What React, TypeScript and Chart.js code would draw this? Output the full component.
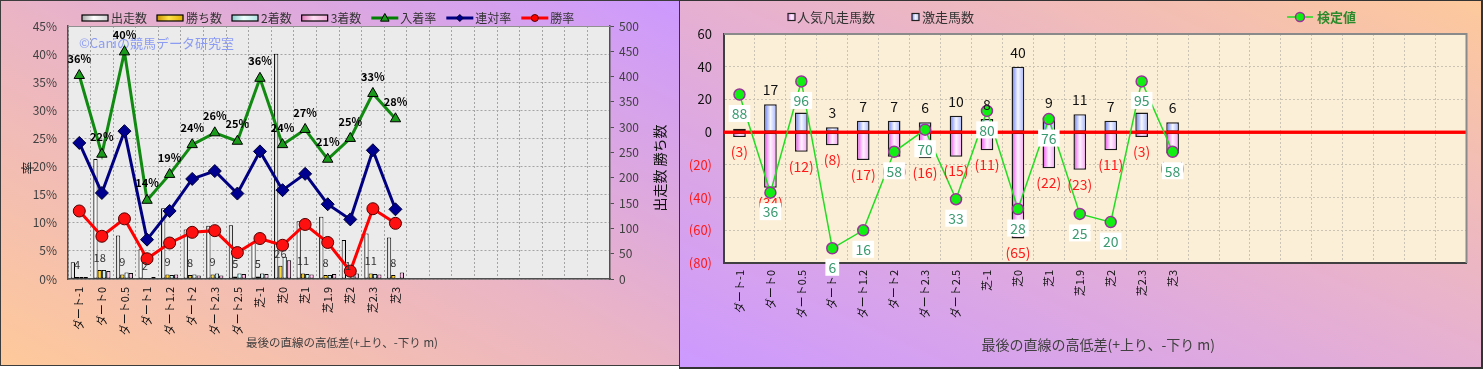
import React, { useEffect, useRef } from 'react';
import { Chart, registerables } from 'chart.js';

Chart.register(...registerables);

const FONT = '"Noto Sans CJK JP", "Noto Sans", sans-serif';

// ---------- data ----------
const categories = ['ダート-1', 'ダート0', 'ダート0.5', 'ダート1', 'ダート1.2', 'ダート2', 'ダート2.3', 'ダート2.5', '芝-1', '芝0', '芝1', '芝1.9', '芝2', '芝2.3', '芝3'];
const emptySlotCount = 9;

// left chart (counts on right axis, rates on left axis)
const starts = [33, 237, 86, 59, 140, 98, 105, 106, 72, 445, 114, 123, 77, 90, 82];
const wins = [4, 18, 9, 2, 9, 8, 9, 5, 5, 26, 11, 8, 1, 11, 8];
const seconds = [4, 18, 13, 2, 8, 9, 11, 11, 11, 44, 10, 8, 7, 10, 2];
const thirds = [4, 16, 12, 4, 9, 7, 7, 10, 10, 37, 9, 10, 11, 9, 13];
const placeRate = [36.2, 22.2, 40.4, 14.0, 18.6, 23.9, 26.0, 24.5, 35.7, 23.9, 26.6, 21.3, 25.0, 33.0, 28.5];
const rentaiRate = [24.2, 15.3, 26.3, 7.0, 12.1, 17.8, 19.2, 15.2, 22.7, 15.8, 18.7, 13.3, 10.6, 22.9, 12.4];
const winRate = [12.1, 7.6, 10.7, 3.6, 6.4, 8.3, 8.6, 4.7, 7.2, 6.0, 9.7, 6.5, 1.4, 12.5, 9.9];
const placeRateLabels = ['36%', '22%', '40%', '14%', '19%', '24%', '26%', '25%', '36%', '24%', '27%', '21%', '25%', '33%', '28%'];
const rateTicks = [0, 45, 5];
const countTicks = [0, 500, 50];

// right chart
const upsetCounts = [2, 17, 12, 3, 7, 7, 6, 10, 8, 40, 9, 11, 7, 12, 6];
const flopCounts = [-3, -34, -12, -8, -17, -15, -16, -15, -11, -65, -22, -23, -11, -3, -13];
const testValues = [23, -37, 31, -71, -60, -12, 1.5, -41, 13, -47, 8, -50, -55, 31, -12];
const testLabels = ['88', '36', '96', '6', '16', '58', '70', '33', '80', '28', '76', '25', '20', '95', '58'];
const rightTicks = [-80, 60, 20];

const xTitle = '最後の直線の高低差(+上り、-下り m)';

const allLabels = [...categories, ...Array(emptySlotCount).fill('')];
const pad = (arr: number[]) => [...arr, ...Array(emptySlotCount).fill(null)];

type Stop = [number, string];
const STOPS: Record<string, Stop[]> = {
  white: [[0, '#a8a8a8'], [0.45, '#ffffff'], [1, '#d0d0d0']],
  gold: [[0, '#c89400'], [0.45, '#ffe24a'], [1, '#e0b000']],
  cyan: [[0, '#88cccc'], [0.45, '#f0ffff'], [1, '#b0e4e4']],
  pink: [[0, '#e078b8'], [0.45, '#ffe0f4'], [1, '#f0a8d8']],
  blue: [[0, '#8494f8'], [0.5, '#f6f8ff'], [1, '#b4c0ff']],
  magenta: [[0, '#ee70ee'], [0.5, '#fff2ff'], [1, '#f8b4f8']],
};

function gradFill(ctx: CanvasRenderingContext2D, l: number, t: number, w: number, h: number, stops: Stop[]) {
  const g = ctx.createLinearGradient(l, 0, l + w, 0);
  stops.forEach(([o, c]) => g.addColorStop(o, c));
  ctx.fillStyle = g;
  ctx.fillRect(l, t, w, h);
}

function overlayBars(chart: any, index: number) {
  const ds = chart.data.datasets[index];
  const stops: Stop[] | undefined = STOPS[ds.gradientKey];
  if (!stops) return;
  const bw = ds.borderWidth || 0;
  const meta = chart.getDatasetMeta(index);
  const ctx = chart.ctx as CanvasRenderingContext2D;
  ctx.save();
  meta.data.forEach((el: any, i: number) => {
    if (ds.data[i] == null) return;
    const { x, y, base, width } = el;
    if (![x, y, base, width].every((v: number) => isFinite(v))) return;
    const left = x - width / 2 + bw;
    const right = x + width / 2 - bw;
    const top = Math.min(y, base) + bw;
    const bottom = Math.max(y, base) - bw;
    if (right <= left || bottom <= top) return;
    gradFill(ctx, left, top, right - left, bottom - top, stops);
  });
  ctx.restore();
}

function drawMarker(ctx: CanvasRenderingContext2D, kind: string, x: number, y: number, r: number, fill: string, stroke: string) {
  ctx.beginPath();
  if (kind === 'triangle') {
    ctx.moveTo(x, y - r);
    ctx.lineTo(x + r * 0.95, y + r * 0.7);
    ctx.lineTo(x - r * 0.95, y + r * 0.7);
    ctx.closePath();
  } else if (kind === 'diamond') {
    ctx.moveTo(x, y - r);
    ctx.lineTo(x + r, y);
    ctx.lineTo(x, y + r);
    ctx.lineTo(x - r, y);
    ctx.closePath();
  } else {
    ctx.arc(x, y, r, 0, Math.PI * 2);
  }
  ctx.fillStyle = fill;
  ctx.fill();
  ctx.lineWidth = 1;
  ctx.strokeStyle = stroke;
  ctx.stroke();
}

function rotatedText(ctx: CanvasRenderingContext2D, text: string, x: number, y: number, font: string, color: string) {
  ctx.save();
  ctx.translate(x, y);
  ctx.rotate(-Math.PI / 2);
  ctx.font = font;
  ctx.fillStyle = color;
  ctx.textAlign = 'center';
  ctx.textBaseline = 'middle';
  ctx.fillText(text, 0, 0);
  ctx.restore();
}

const leftPlugin = {
  id: 'leftDecor',
  beforeDraw(chart: any) {
    const { ctx, chartArea: a } = chart;
    ctx.save();
    ctx.fillStyle = '#ebebeb';
    ctx.fillRect(a.left, a.top, a.right - a.left, a.bottom - a.top);
    ctx.restore();
  },
  beforeDatasetsDraw(chart: any) {
    const { ctx, chartArea: a } = chart;
    ctx.save();
    ctx.font = `13px ${FONT}`;
    ctx.fillStyle = '#8c9cf2';
    ctx.textBaseline = 'middle';
    ctx.fillText('©Caniの競馬データ研究室', a.left + 11, 43);
    ctx.restore();
  },
  afterDatasetDraw(chart: any, args: any) {
    if (args.meta.type === 'bar') overlayBars(chart, args.index);
  },
  afterDatasetsDraw(chart: any) {
    const ctx = chart.ctx as CanvasRenderingContext2D;
    ctx.save();
    ctx.textAlign = 'center';
    ctx.textBaseline = 'middle';
    // wins labels
    const winMeta = chart.getDatasetMeta(4);
    ctx.font = `11px ${FONT}`;
    ctx.fillStyle = '#333';
    wins.forEach((v, i) => {
      const el = winMeta.data[i];
      ctx.fillText(String(v), el.x, el.y - 12.5);
    });
    // place rate labels
    const pMeta = chart.getDatasetMeta(0);
    ctx.font = `bold 11px ${FONT}`;
    ctx.fillStyle = '#000';
    placeRateLabels.forEach((t, i) => {
      const el = pMeta.data[i];
      ctx.fillText(t, el.x, el.y - 17);
    });
    ctx.restore();
  },
  afterDraw(chart: any) {
    const { ctx, chartArea: a } = chart;
    ctx.save();
    // top border of plot
    ctx.strokeStyle = '#909090';
    ctx.lineWidth = 1;
    ctx.beginPath();
    ctx.moveTo(a.left, a.top + 0.5);
    ctx.lineTo(a.right, a.top + 0.5);
    ctx.stroke();

    // legend
    ctx.font = `12px ${FONT}`;
    ctx.textBaseline = 'middle';
    ctx.textAlign = 'left';
    const y = 18;
    let x = 82;
    const items: any[] = [
      { kind: 'box', label: '出走数', stops: STOPS.white },
      { kind: 'box', label: '勝ち数', stops: STOPS.gold },
      { kind: 'box', label: '2着数', stops: STOPS.cyan },
      { kind: 'box', label: '3着数', stops: STOPS.pink },
      { kind: 'line', label: '入着率', color: '#008000', marker: 'triangle', fill: '#1a9a1a', stroke: '#000', r: 4.5 },
      { kind: 'line', label: '連対率', color: '#000080', marker: 'diamond', fill: '#000090', stroke: '#000030', r: 3.5 },
      { kind: 'line', label: '勝率', color: '#ff0000', marker: 'circle', fill: '#ff0000', stroke: '#500000', r: 3.5 },
    ];
    items.forEach((it) => {
      if (it.kind === 'box') {
        gradFill(ctx, x, y - 3, 26, 6, it.stops);
        ctx.strokeStyle = '#000';
        ctx.lineWidth = 1.2;
        ctx.strokeRect(x, y - 3, 26, 6);
        x += 29;
      } else {
        ctx.strokeStyle = it.color;
        ctx.lineWidth = 3;
        ctx.beginPath();
        ctx.moveTo(x, y);
        ctx.lineTo(x + 27, y);
        ctx.stroke();
        drawMarker(ctx, it.marker, x + 13.5, y, it.r, it.fill, it.stroke);
        x += 29;
      }
      ctx.fillStyle = '#333';
      ctx.fillText(it.label, x, y + 0.5);
      x += ctx.measureText(it.label).width + 10;
    });

    // axis titles
    rotatedText(ctx, '率', 27, 168, `13px ${FONT}`, '#222');
    rotatedText(ctx, '出走数 勝ち数', 660, 168, `14px ${FONT}`, '#111');
    ctx.font = `11.5px ${FONT}`;
    ctx.fillStyle = '#404040';
    ctx.textAlign = 'center';
    ctx.fillText(xTitle, (a.left + a.right) / 2 + 3, 343);
    ctx.restore();
  },
};

const rightPlugin = {
  id: 'rightDecor',
  beforeDraw(chart: any) {
    const { ctx, chartArea: a } = chart;
    ctx.save();
    ctx.fillStyle = '#fcefd7';
    ctx.fillRect(a.left, a.top, a.right - a.left, a.bottom - a.top);
    ctx.restore();
  },
  afterDatasetDraw(chart: any, args: any) {
    if (args.meta.type === 'bar') {
      overlayBars(chart, args.index);
      const { ctx, chartArea: a, scales } = chart;
      const y0 = scales.y.getPixelForValue(0);
      ctx.save();
      ctx.strokeStyle = '#ff0000';
      ctx.lineWidth = 3;
      ctx.beginPath();
      ctx.moveTo(a.left, y0);
      ctx.lineTo(a.right, y0);
      ctx.stroke();
      ctx.restore();
    }
  },
  afterDatasetsDraw(chart: any) {
    const ctx = chart.ctx as CanvasRenderingContext2D;
    ctx.save();
    ctx.textAlign = 'center';
    ctx.textBaseline = 'middle';
    ctx.font = `14px ${FONT}`;
    const flopMeta = chart.getDatasetMeta(1);
    const upMeta = chart.getDatasetMeta(2);
    upsetCounts.forEach((v, i) => {
      const el = upMeta.data[i];
      ctx.fillStyle = '#111';
      ctx.fillText(String(v), el.x, el.y - 14.5);
    });
    flopCounts.forEach((v, i) => {
      const el = flopMeta.data[i];
      ctx.fillStyle = '#ff1a1a';
      ctx.fillText(`(${Math.abs(v)})`, el.x, el.y + 14.5);
    });
    const tMeta = chart.getDatasetMeta(0);
    testLabels.forEach((t, i) => {
      const el = tMeta.data[i];
      const w = ctx.measureText(t).width + 6;
      const h = 17;
      const cy = el.y + 19;
      ctx.fillStyle = '#ffffff';
      ctx.fillRect(el.x - w / 2, cy - h / 2, w, h);
      ctx.fillStyle = '#3a9a70';
      ctx.fillText(t, el.x, cy + 0.5);
    });
    ctx.restore();
  },
  afterDraw(chart: any) {
    const { ctx, chartArea: a } = chart;
    ctx.save();
    ctx.strokeStyle = '#8a8a8a';
    ctx.lineWidth = 2;
    ctx.beginPath();
    ctx.moveTo(a.left, a.top);
    ctx.lineTo(a.right, a.top);
    ctx.lineTo(a.right, a.bottom);
    ctx.stroke();

    // legends
    ctx.font = `13px ${FONT}`;
    ctx.textBaseline = 'middle';
    ctx.textAlign = 'left';
    const y = 17;
    gradFill(ctx, 109, y - 3.5, 7, 7, STOPS.magenta);
    ctx.strokeStyle = '#222';
    ctx.lineWidth = 1.2;
    ctx.strokeRect(109, y - 3.5, 7, 7);
    ctx.fillStyle = '#333';
    ctx.fillText('人気凡走馬数', 118, y);
    gradFill(ctx, 233, y - 3.5, 7, 7, STOPS.blue);
    ctx.strokeRect(233, y - 3.5, 7, 7);
    ctx.fillStyle = '#333';
    ctx.fillText('激走馬数', 243, y);

    ctx.strokeStyle = '#22dd22';
    ctx.lineWidth = 1.5;
    ctx.beginPath();
    ctx.moveTo(608, y);
    ctx.lineTo(634, y);
    ctx.stroke();
    ctx.beginPath();
    ctx.arc(621, y, 4.5, 0, Math.PI * 2);
    ctx.fillStyle = '#11ee11';
    ctx.fill();
    ctx.strokeStyle = '#993399';
    ctx.lineWidth = 1.5;
    ctx.stroke();
    ctx.font = `bold 13px ${FONT}`;
    ctx.fillStyle = '#2b8a2b';
    ctx.fillText('検定値', 638, y);

    ctx.font = `14px ${FONT}`;
    ctx.fillStyle = '#404040';
    ctx.textAlign = 'center';
    ctx.fillText(xTitle, (a.left + a.right) / 2 + 3, 345);
    ctx.restore();
  },
};

export default function App() {
  const leftRef = useRef<HTMLCanvasElement>(null);
  const rightRef = useRef<HTMLCanvasElement>(null);

  useEffect(() => {
    document.body.style.margin = '0';
    const tickFont = { family: FONT, size: 12 };
    const xTickFont = { family: FONT, size: 11 };

    const left = new Chart(leftRef.current!, {
      type: 'bar',
      data: {
        labels: allLabels,
        datasets: [
          { type: 'line', label: '入着率', data: pad(placeRate), yAxisID: 'y', borderColor: '#108a10', backgroundColor: '#1a9a1a', borderWidth: 3, pointStyle: 'triangle', pointRadius: 6, pointBackgroundColor: '#1a9a1a', pointBorderColor: '#000', pointBorderWidth: 1, tension: 0, order: 1 } as any,
          { type: 'line', label: '連対率', data: pad(rentaiRate), yAxisID: 'y', borderColor: '#000080', backgroundColor: '#000090', borderWidth: 3, pointStyle: 'rectRot', pointRadius: 6.5, pointBackgroundColor: '#000090', pointBorderColor: '#000030', pointBorderWidth: 1, tension: 0, order: 1 } as any,
          { type: 'line', label: '勝率', data: pad(winRate), yAxisID: 'y', borderColor: '#ff0000', backgroundColor: '#ff0000', borderWidth: 3, pointStyle: 'circle', pointRadius: 6, pointBackgroundColor: '#ff1010', pointBorderColor: '#500000', pointBorderWidth: 1, tension: 0, order: 1 } as any,
          { label: '出走数', data: pad(starts), yAxisID: 'y1', backgroundColor: '#f2f2f2', borderColor: '#000', borderWidth: 1, borderSkipped: false, gradientKey: 'white', order: 2 } as any,
          { label: '勝ち数', data: pad(wins), yAxisID: 'y1', backgroundColor: '#f0c000', borderColor: '#000', borderWidth: 1, borderSkipped: false, gradientKey: 'gold', order: 2 } as any,
          { label: '2着数', data: pad(seconds), yAxisID: 'y1', backgroundColor: '#c8f0f0', borderColor: '#000', borderWidth: 1, borderSkipped: false, gradientKey: 'cyan', order: 2 } as any,
          { label: '3着数', data: pad(thirds), yAxisID: 'y1', backgroundColor: '#f4a8d8', borderColor: '#000', borderWidth: 1, borderSkipped: false, gradientKey: 'pink', order: 2 } as any,
        ],
      },
      options: {
        responsive: false,
        maintainAspectRatio: false,
        animation: false,
        layout: { padding: { top: 26, left: 0, right: 0, bottom: 0 } },
        plugins: { legend: { display: false }, tooltip: { enabled: false } },
        datasets: { bar: { categoryPercentage: 0.76, barPercentage: 1 } },
        scales: {
          x: {
            grid: { color: '#a4a4a4', lineWidth: 1, drawTicks: false },
            border: { color: '#505050', width: 1.5, dash: [2, 2] },
            ticks: { autoSkip: false, minRotation: 90, maxRotation: 90, padding: 8, color: '#111', font: xTickFont },
            afterFit: (s: any) => { s.height = 87; },
          },
          y: {
            position: 'left',
            min: rateTicks[0],
            max: rateTicks[1],
            ticks: { stepSize: rateTicks[2], padding: 11, color: '#404040', font: tickFont, callback: (v: any) => `${v}%` },
            grid: { color: '#a4a4a4', drawTicks: false },
            border: { color: '#505050', width: 1.5, dash: [2, 2] },
            afterFit: (s: any) => { s.width = 68; },
          },
          y1: {
            position: 'right',
            min: countTicks[0],
            max: countTicks[1],
            ticks: { stepSize: countTicks[2], padding: 5, color: '#404040', font: tickFont },
            grid: { drawOnChartArea: false, drawTicks: true, tickLength: 4, color: '#505050' },
            border: { color: '#505050', width: 1.5 },
            afterFit: (s: any) => { s.width = 69; },
          },
        } as any,
      },
      plugins: [leftPlugin],
    });

    const right = new Chart(rightRef.current!, {
      type: 'bar',
      data: {
        labels: allLabels,
        datasets: [
          { type: 'line', label: '検定値', data: pad(testValues), borderColor: '#22dd22', backgroundColor: '#11ee11', borderWidth: 1.5, pointRadius: 5.5, pointBackgroundColor: '#11ee11', pointBorderColor: '#993399', pointBorderWidth: 1.5, tension: 0, order: 1 } as any,
          { label: '人気凡走馬数', data: pad(flopCounts), backgroundColor: '#f8c0f8', borderColor: '#1a1a1a', borderWidth: 1.5, borderSkipped: false, grouped: false, gradientKey: 'magenta', order: 2 } as any,
          { label: '激走馬数', data: pad(upsetCounts), backgroundColor: '#c8d0ff', borderColor: '#1a1a1a', borderWidth: 1.5, borderSkipped: false, grouped: false, gradientKey: 'blue', order: 2 } as any,
        ],
      },
      options: {
        responsive: false,
        maintainAspectRatio: false,
        animation: false,
        layout: { padding: { top: 34, left: 0, right: 16.5, bottom: 0 } },
        plugins: { legend: { display: false }, tooltip: { enabled: false } },
        datasets: { bar: { categoryPercentage: 1, barPercentage: 0.41 } },
        scales: {
          x: {
            grid: { color: '#cbc3b3', drawTicks: false },
            border: { color: '#404040', width: 2, dash: [2, 2] },
            ticks: { autoSkip: false, minRotation: 90, maxRotation: 90, padding: 7, color: '#111', font: xTickFont },
            afterFit: (s: any) => { s.height = 106; },
          },
          y: {
            min: rightTicks[0],
            max: rightTicks[1],
            ticks: {
              stepSize: rightTicks[2],
              padding: 12,
              font: { family: FONT, size: 13 },
              color: (c: any) => (c.tick && c.tick.value < 0 ? '#ff1a1a' : '#111'),
              callback: (v: any) => (v < 0 ? `(${-v})` : `${v}`),
            },
            grid: { color: '#cbc3b3', drawTicks: false },
            border: { color: '#404040', width: 2, dash: [2, 2] },
            afterFit: (s: any) => { s.width = 45; },
          },
        } as any,
      },
      plugins: [rightPlugin],
    });

    return () => {
      left.destroy();
      right.destroy();
    };
  }, []);

  return (
    <div style={{ position: 'relative', width: 1483, height: 369, overflow: 'hidden' }}>
      <div
        style={{
          position: 'absolute', left: 0, top: 0, width: 680, height: 366, boxSizing: 'border-box',
          border: '1px solid #3c3c3c',
          background: 'linear-gradient(to top right, #fec99a 0%, #eab4c6 50%, #cc99ff 100%)',
        }}
      />
      <div
        style={{
          position: 'absolute', left: 679, top: 0, width: 804, height: 369, boxSizing: 'border-box',
          borderLeft: '1px solid #333', borderTop: '1px solid #333', borderRight: '2px solid #333', borderBottom: '2px solid #333',
          background: 'linear-gradient(to top right, #cc99ff 0%, #e6b0d2 50%, #fdc99c 100%)',
        }}
      />
      <canvas ref={leftRef} width={679} height={366} style={{ position: 'absolute', left: 0, top: 0 }} />
      <canvas ref={rightRef} width={804} height={369} style={{ position: 'absolute', left: 679, top: 0 }} />
    </div>
  );
}
